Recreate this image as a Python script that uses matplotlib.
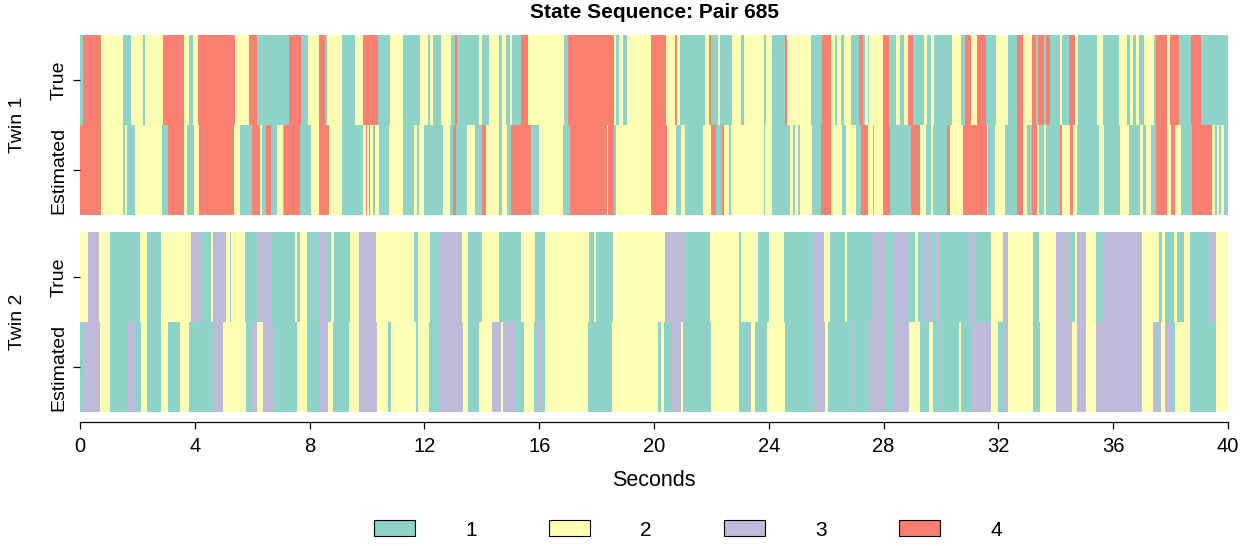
import numpy as np
import matplotlib
matplotlib.use('Agg')
import matplotlib.pyplot as plt
from matplotlib.patches import Patch

plt.rcParams['font.family'] = ['Liberation Sans', 'DejaVu Sans']

# state sequences: segment start times (s) and state at each segment
twin1_true_t = [0.00, 0.10, 0.72, 1.49, 1.77, 2.21, 2.26, 2.90, 3.62, 3.81, 3.93, 4.12, 5.40, 5.90, 6.18, 7.29,
                7.70, 7.96, 8.34, 8.55, 8.62, 9.12, 9.58, 9.87, 10.39, 10.81, 11.24, 11.85, 12.13, 12.20, 12.31,
                12.59, 12.92, 13.06, 13.13, 13.90, 13.99, 14.25, 14.60, 14.72, 14.83, 14.97, 15.05, 15.37, 15.61,
                16.88, 17.02, 18.60, 18.69, 18.77, 18.91, 19.07, 19.90, 20.42, 20.74, 20.81, 20.92, 21.76, 21.93,
                22.00, 22.23, 22.31, 22.71, 23.04, 23.12, 23.85, 23.90, 24.11, 24.55, 24.63, 25.47, 25.86, 26.17,
                26.32, 26.37, 26.52, 26.63, 26.87, 27.13, 27.27, 27.35, 27.45, 27.50, 27.99, 28.20, 28.43, 28.57,
                28.72, 28.84, 29.04, 29.42, 29.50, 29.65, 29.77, 30.38, 30.69, 30.84, 31.04, 31.25, 31.57, 31.92,
                32.32, 32.64, 32.85, 33.16, 33.31, 33.37, 33.59, 33.66, 33.80, 34.13, 34.21, 34.47, 34.67, 34.79,
                35.42, 35.65, 36.20, 36.49, 36.60, 36.70, 36.78, 36.90, 37.07, 37.42, 37.48, 37.86, 37.98, 38.29,
                38.72, 39.07]
twin1_true_s = [1, 4, 2, 1, 2, 1, 2, 4, 2, 1, 2, 4, 2, 4, 1, 4,
                1, 2, 4, 1, 2, 1, 2, 4, 1, 2, 1, 2, 1, 2, 1,
                2, 1, 4, 1, 2, 1, 2, 1, 2, 1, 2, 1, 4, 2,
                1, 4, 2, 1, 2, 1, 2, 4, 2, 4, 2, 1, 2, 4,
                1, 2, 1, 2, 1, 2, 1, 2, 1, 4, 2, 1, 4, 2,
                1, 2, 1, 2, 1, 4, 1, 2, 1, 2, 4, 1, 2, 1,
                2, 4, 1, 2, 1, 2, 1, 2, 1, 4, 2, 4, 1, 2,
                1, 4, 2, 4, 1, 4, 1, 4, 1, 2, 1, 4, 2, 1,
                2, 1, 2, 1, 2, 1, 2, 1, 2, 1, 4, 2, 4, 1,
                4, 1]

twin1_est_t = [0.00, 0.72, 1.49, 1.56, 1.63, 1.90, 2.87, 3.05, 3.62, 3.74, 3.97, 4.13, 5.36, 5.57, 5.98, 6.27,
               6.34, 6.48, 6.66, 6.85, 7.06, 7.12, 7.67, 8.04, 8.34, 8.69, 9.12, 9.87, 9.96, 9.99, 10.07, 10.11,
               10.22, 10.27, 10.42, 10.77, 11.24, 11.64, 11.73, 11.82, 11.99, 12.66, 12.90, 13.01, 13.09, 13.50,
               13.75, 13.99, 14.14, 14.60, 14.72, 14.87, 15.00, 15.70, 15.98, 16.83, 17.06, 18.35, 18.40, 18.60,
               18.68, 19.90, 20.45, 20.77, 20.95, 21.09, 21.69, 21.99, 22.16, 22.37, 22.43, 22.62, 22.67, 23.82,
               23.88, 24.11, 24.75, 24.83, 24.92, 25.01, 25.09, 25.51, 25.82, 26.17, 26.55, 26.69, 27.04, 27.21,
               27.45, 27.62, 27.68, 27.99, 28.22, 28.95, 29.27, 29.48, 29.65, 29.71, 30.20, 30.32, 30.76, 31.60,
               31.65, 31.89, 32.23, 32.64, 32.85, 33.01, 33.16, 33.34, 33.43, 33.59, 33.66, 34.15, 34.21, 34.50,
               34.61, 34.73, 35.50, 35.68, 36.23, 36.55, 36.93, 37.05, 37.13, 37.30, 37.48, 37.88, 38.00, 38.17,
               38.35, 38.75, 39.45, 39.53, 39.60, 39.68, 39.76, 39.86]
twin1_est_s = [4, 2, 1, 2, 1, 2, 1, 4, 2, 1, 2, 4, 2, 1, 4, 2,
               1, 4, 1, 2, 1, 4, 1, 2, 4, 2, 1, 2, 4, 2, 4, 2,
               1, 2, 1, 2, 1, 2, 1, 2, 1, 2, 1, 4, 1, 2,
               1, 4, 2, 1, 2, 1, 4, 1, 2, 1, 4, 2, 4, 1,
               2, 4, 2, 1, 2, 1, 2, 4, 1, 4, 2, 1, 2, 1,
               2, 1, 2, 1, 2, 1, 2, 1, 4, 2, 1, 2, 1, 4,
               2, 1, 2, 4, 1, 4, 2, 1, 2, 1, 4, 2, 4, 2,
               1, 2, 1, 4, 2, 1, 4, 2, 1, 2, 1, 4, 2, 4,
               2, 1, 2, 1, 2, 1, 2, 1, 2, 1, 4, 2, 4, 2,
               1, 4, 2, 1, 2, 1, 2, 1]

twin2_true_t = [0.00, 0.29, 0.67, 1.04, 2.09, 2.35, 2.82, 3.88, 4.21, 4.55, 4.65, 5.08, 5.21, 5.27, 5.75, 6.18,
                6.64, 7.49, 7.57, 7.66, 7.92, 8.34, 8.59, 8.73, 8.85, 9.41, 9.73, 10.31, 11.64, 11.78, 12.20,
                12.51, 13.32, 13.52, 13.99, 14.60, 15.35, 15.86, 16.19, 17.75, 17.90, 17.97, 18.57, 20.39, 21.09,
                21.96, 22.97, 23.04, 23.64, 24.02, 24.52, 25.53, 25.94, 26.13, 26.67, 26.71, 27.60, 28.06, 28.34,
                28.80, 29.11, 29.19, 29.36, 29.65, 29.83, 29.97, 30.99, 31.19, 31.73, 32.15, 32.32, 33.22, 33.43,
                34.01, 34.47, 34.67, 34.75, 35.05, 35.39, 35.65, 37.01, 37.59, 37.71, 37.82, 38.11, 38.21, 38.46,
                38.69, 39.37, 39.57]
twin2_true_s = [2, 3, 2, 1, 2, 1, 2, 3, 1, 2, 3, 2, 1, 2, 1, 3,
                1, 2, 1, 2, 1, 3, 1, 2, 1, 2, 3, 2, 1, 2, 1,
                3, 2, 1, 2, 1, 2, 1, 2, 1, 2, 1, 2, 3, 1,
                2, 1, 2, 1, 2, 1, 3, 2, 1, 2, 1, 3, 1, 3,
                1, 2, 1, 3, 1, 3, 1, 3, 1, 2, 3, 2, 1, 2,
                3, 1, 2, 3, 2, 1, 3, 2, 1, 2, 1, 2, 1, 2,
                1, 3, 2]

twin2_est_t = [0.00, 0.09, 0.69, 1.04, 1.68, 1.93, 2.12, 2.35, 2.82, 3.05, 3.48, 3.81, 4.65, 4.97, 5.79, 5.98,
               6.16, 6.39, 6.74, 7.57, 7.92, 8.36, 8.65, 8.83, 9.38, 9.73, 10.34, 10.74, 10.83, 11.70, 11.78,
               12.16, 12.51, 13.36, 13.52, 13.90, 14.37, 14.66, 14.75, 15.17, 15.47, 15.82, 15.96, 16.05, 16.21,
               17.70, 18.53, 20.14, 20.26, 20.34, 20.63, 20.95, 21.00, 21.99, 22.97, 23.30, 23.39, 23.53, 23.93,
               24.57, 25.55, 25.97, 26.05, 26.87, 26.95, 27.53, 28.06, 28.32, 28.90, 29.27, 29.57, 29.73, 29.94,
               30.00, 30.61, 30.69, 31.07, 31.73, 31.97, 32.15, 32.35, 33.20, 33.45, 34.01, 34.56, 34.73, 35.05,
               35.39, 37.01, 37.40, 37.51, 37.59, 37.67, 37.82, 38.02, 38.17, 38.69, 39.57]
twin2_est_s = [1, 3, 2, 1, 3, 1, 2, 1, 2, 1, 2, 1, 3, 2, 1, 3,
               2, 3, 1, 2, 1, 3, 2, 1, 2, 3, 2, 1, 2, 1, 2,
               1, 3, 2, 1, 2, 3, 2, 3, 1, 2, 1, 3, 1, 2,
               1, 2, 1, 2, 1, 3, 2, 1, 2, 1, 3, 2, 1, 2,
               1, 3, 2, 1, 3, 1, 3, 1, 3, 2, 1, 2, 1, 3,
               1, 2, 1, 3, 2, 1, 3, 2, 1, 2, 3, 2, 3, 2,
               3, 2, 3, 1, 3, 2, 3, 1, 2, 1, 2]

states = [1, 2, 3, 4]
state_colors = ['#8DD3C7', '#FFFFB3', '#BEBADA', '#FB8072']
t_end = 40
cmap = dict(zip(states, state_colors))


def draw_row(ax, starts, seq, y):
    starts = np.array(starts)
    widths = np.diff(np.append(starts, t_end))
    ax.barh(y, widths, left=starts, height=0.5, align='edge',
            color=[cmap[s] for s in seq], linewidth=0, antialiased=False)


W, H = 1257, 546
fig = plt.figure(figsize=(W / 100, H / 100), dpi=100)
ax1 = fig.add_axes([80 / W, 1 - 215 / H, 1148 / W, 180 / H])
ax2 = fig.add_axes([80 / W, 1 - 412 / H, 1148 / W, 180 / H])

draw_row(ax1, twin1_true_t, twin1_true_s, 0.5)
draw_row(ax1, twin1_est_t, twin1_est_s, 0.0)
draw_row(ax2, twin2_true_t, twin2_true_s, 0.5)
draw_row(ax2, twin2_est_t, twin2_est_s, 0.0)

for ax, name, yc in [(ax1, 'Twin 1', 125), (ax2, 'Twin 2', 322)]:
    ax.set_xlim(0, t_end)
    ax.set_ylim(0, 1)
    for sp in ax.spines.values():
        sp.set_visible(False)
    ax.set_yticks([0.25, 0.75])
    ax.set_yticklabels(['Estimated', 'True'], rotation=90, va='center', fontsize=14)
    ax.tick_params(axis='y', length=5, width=0.9, pad=4)
    fig.text(18 / W, 1 - yc / H, name, rotation=90, ha='center', va='center', fontsize=14)

ax1.set_xticks([])
ax2.spines['bottom'].set_visible(True)
ax2.spines['bottom'].set_position(('outward', 7))
ax2.spines['bottom'].set_bounds(0, t_end)
ax2.spines['bottom'].set_linewidth(0.9)
ax2.set_xticks(np.arange(0, 41, 4))
ax2.tick_params(axis='x', length=5, width=0.9, pad=6, labelsize=14.5)

fig.text(654 / W, 1 - 480 / H, 'Seconds', ha='center', va='center', fontsize=15.5)
fig.text(654 / W, 1 - 13 / H, 'State Sequence: Pair 685', ha='center', va='center',
         fontsize=15, fontweight='bold')

handles = [Patch(facecolor=c, edgecolor='black', linewidth=0.8, label=str(s))
           for s, c in zip(states, state_colors)]
fig.legend(handles=handles, loc='center', bbox_to_anchor=(688 / W, 1 - 530 / H), ncol=4,
           frameon=False, fontsize=15, handlelength=1.97, handleheight=0.8,
           handletextpad=2.4, columnspacing=3.48)

fig.savefig('out.png', dpi=100)
